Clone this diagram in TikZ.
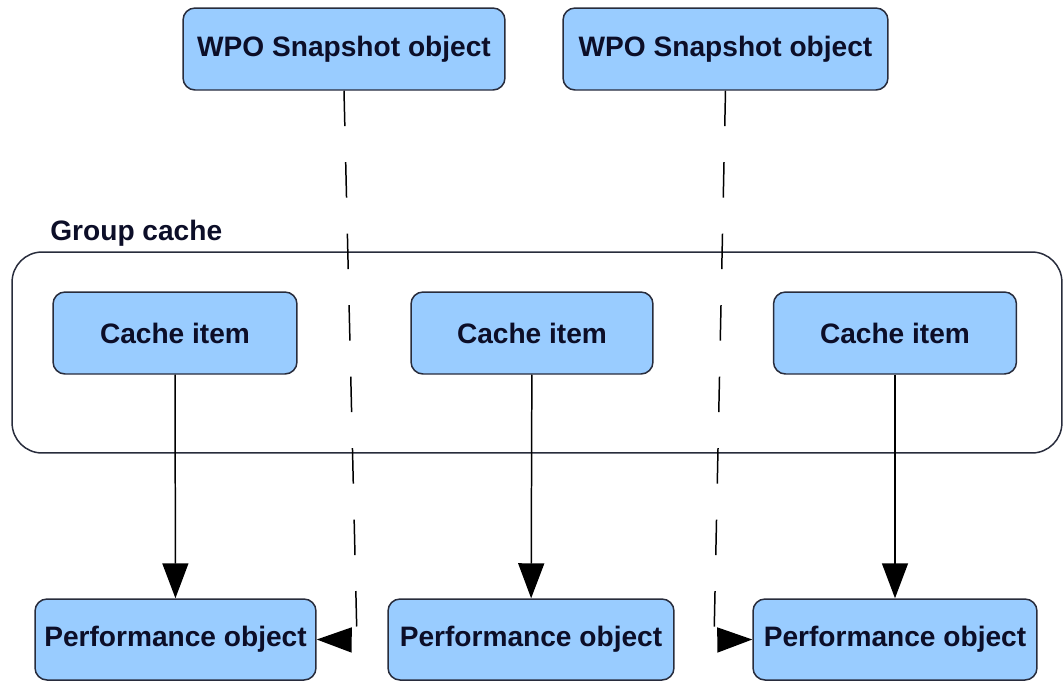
\documentclass[tikz,border=0pt]{standalone}
\usepackage{fontspec}
\setmainfont{Liberation Sans}
\usetikzlibrary{arrows.meta}
\definecolor{boxfill}{RGB}{153,204,255}
\definecolor{boxline}{RGB}{40,44,60}
\definecolor{boxtext}{RGB}{12,14,40}
\tikzset{
  objbox/.style={draw=boxline, fill=boxfill, line width=0.85pt, rounded corners=0.24cm,
    inner sep=0pt, minimum height=1.64cm, text=boxtext,
    font=\fontsize{16}{19}\selectfont\bfseries},
  groupbox/.style={draw=boxline, line width=0.85pt, rounded corners=0.6cm, inner sep=0pt},
  grouplabel/.style={anchor=west, inner sep=0pt, text=boxtext,
    font=\fontsize{16}{19}\selectfont\bfseries},
  solidconn/.style={draw=black, line width=0.85pt, -{Triangle[length=0.7cm,width=0.52cm]}},
  dashconn/.style={draw=black, line width=0.85pt, dash pattern=on 0.71cm off 0.72cm,
    -{Triangle[length=0.7cm,width=0.5cm]}}
}
\begin{document}
\begin{tikzpicture}[x=0.02cm, y=-0.02cm]
\useasboundingbox (0,0) rectangle (1063,681);

% group container and its caption
\node[groupbox, minimum width=21cm, minimum height=4.02cm] (gcache) at (537,352.5) {};
\node[grouplabel] (gclabel) at (50,233) {Group cache};

% snapshot objects
\node[objbox, minimum width=6.44cm] (wpo1) at (344,49) {WPO Snapshot object};
\node[objbox, minimum width=6.5cm] (wpo2) at (725.5,49) {WPO Snapshot object};

% cache items
\node[objbox, minimum width=4.88cm] (ci1) at (175,333) {Cache item};
\node[objbox, minimum width=4.84cm] (ci2) at (532,333) {Cache item};
\node[objbox, minimum width=4.86cm] (ci3) at (895,333) {Cache item};

% performance objects
\node[objbox, minimum width=5.62cm, minimum height=1.62cm] (po1) at (175.5,639.5) {Performance object};
\node[objbox, minimum width=5.72cm, minimum height=1.62cm] (po2) at (531,639.5) {Performance object};
\node[objbox, minimum width=5.68cm, minimum height=1.62cm] (po3) at (895,639.5) {Performance object};

% cache item -> performance object
\draw[solidconn] (ci1) -- (po1);
\draw[solidconn] (ci2) -- (po2);
\draw[solidconn] (ci3) -- (po3);

% snapshot references (dashed, bending into the side of a performance object)
\coordinate (k1) at (357,640);
\coordinate (k2) at (714,640);
\draw[dashconn] (wpo1.south) -- (k1) -- (po1.east);
\draw[dashconn] (wpo2.south) -- (k2) -- (po3.west);
\end{tikzpicture}
\end{document}
